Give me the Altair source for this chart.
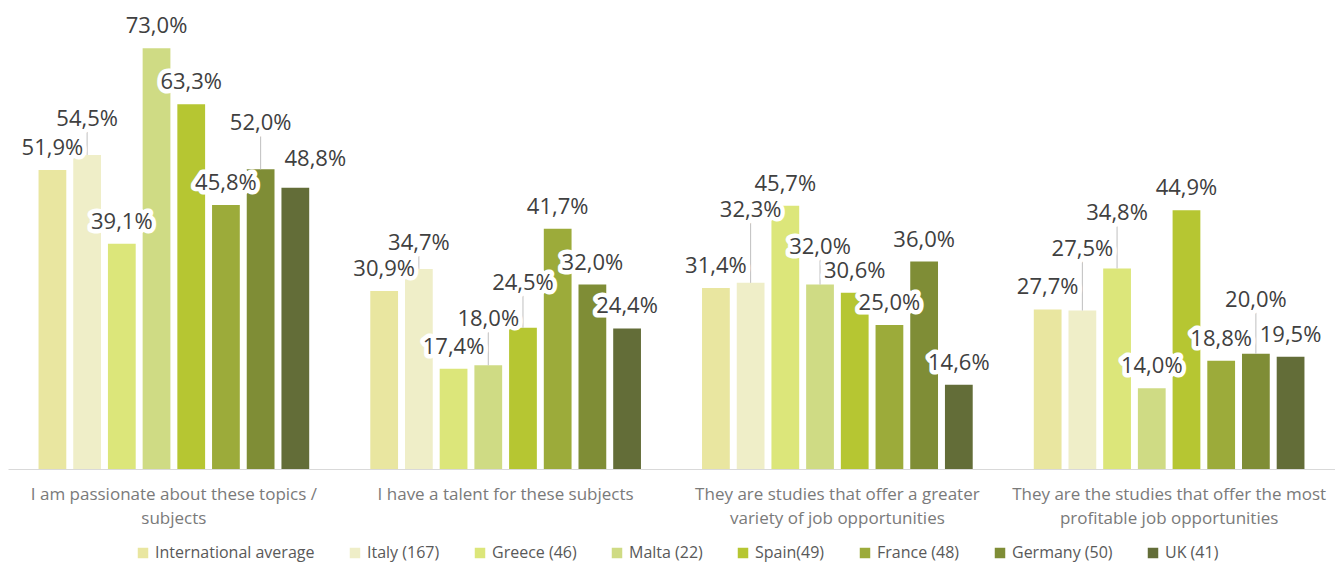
import altair as alt
import pandas as pd

# ---- data -------------------------------------------------------------
categories = [
    "I am passionate about these topics /|subjects",
    "I have a talent for these subjects",
    "They are studies that offer a greater|variety of job opportunities",
    "They are the studies that offer the most|profitable job opportunities",
]
series = [
    "International average", "Italy (167)", "Greece (46)", "Malta (22)",
    "Spain(49)", "France (48)", "Germany (50)", "UK (41)",
]
passionate = [51.9, 54.5, 39.1, 73.0, 63.3, 45.8, 52.0, 48.8]
talent = [30.9, 34.7, 17.4, 18.0, 24.5, 41.7, 32.0, 24.4]
variety = [31.4, 32.3, 45.7, 32.0, 30.6, 25.0, 36.0, 14.6]
profitable = [27.7, 27.5, 34.8, 14.0, 44.9, 18.8, 20.0, 19.5]

colors = ["#e9e6a0", "#efeec8", "#dce67a", "#cfdb84",
          "#b6c632", "#9cab3a", "#7f8d36", "#636d38"]

# label nudges (pixels) used by the original to avoid overlapping labels
raise_passionate = [0, 14, 0, 0, 0, 0, 24, 7]
raise_talent = [0, 4, 0, 24, 23, 0, 0, 0]
raise_variety = [0, 51, 0, 16, 0, 0, 0, 0]
raise_profitable = [0, 40, 33, 0, 0, 0, 32, 0]
shift_passionate = [0, 0, 0, 0, 0, 0, 0, 20]
shift_other = [0, 0, 0, 0, 0, 0, 0, 0]

values = [passionate, talent, variety, profitable]
raises = [raise_passionate, raise_talent, raise_variety, raise_profitable]
shifts = [shift_passionate, shift_other, shift_other, shift_other]

rows = []
for ci, cat in enumerate(categories):
    for si, s in enumerate(series):
        v = values[ci][si]
        rows.append({
            "category": cat,
            "series": s,
            "value": v,
            "label": f"{v:.1f}%".replace(".", ","),
            "lift": raises[ci][si],
            "label_dx": shifts[ci][si],
        })
df = pd.DataFrame(rows)

# ---- layout -----------------------------------------------------------
W = 1327
H = 461
YMAX = 80
PX = H / YMAX
GAP = 22
FONT = "Open Sans"

base = alt.Chart(df).transform_calculate(
    label_y=f"datum.value + ({GAP} + datum.lift) / {PX}",
    lead_top=f"datum.value + ({GAP} + datum.lift - 13) / {PX}",
)

x = alt.X(
    "category:N", sort=categories,
    scale=alt.Scale(paddingInner=0, paddingOuter=0),
    axis=alt.Axis(
        title=None, labelAngle=0, ticks=False,
        labelExpr="split(datum.label, '|')",
        domainColor="#d9d9d9", domainWidth=1,
        labelFont=FONT, labelFontSize=17, labelColor="#7a7a7a",
        labelLineHeight=24, labelPadding=17, labelLimit=400,
    ),
)
xo = alt.XOffset("series:N", sort=series,
                 scale=alt.Scale(paddingInner=0.2, paddingOuter=0.88))
yscale = alt.Scale(domain=[0, YMAX], nice=False)

bars = base.mark_bar().encode(
    x=x, xOffset=xo,
    y=alt.Y("value:Q", scale=yscale, axis=None),
    color=alt.Color(
        "series:N", sort=series,
        scale=alt.Scale(domain=series, range=colors),
        legend=alt.Legend(
            title=None, orient="none", direction="horizontal", columns=8,
            legendX=127, legendY=537,
            symbolType="square", symbolSize=110, symbolStrokeWidth=0,
            labelFont=FONT, labelFontSize=16, labelColor="#595959",
            labelOffset=4, columnPadding=32, labelLimit=300,
        ),
    ),
)

leaders = base.transform_filter(
    "datum.lift >= 4 && datum.label_dx == 0"
).mark_rule(color="#bfbfbf", strokeWidth=1).encode(
    x=x, xOffset=xo,
    y=alt.Y("value:Q", scale=yscale, axis=None),
    y2="lead_top:Q",
)

halo = base.mark_text(
    font=FONT, fontSize=22, baseline="middle", align="center",
    fill="white", stroke="white", strokeWidth=9, strokeJoin="round",
    dx=alt.ExprRef(expr="datum.label_dx"),
).encode(
    x=x, xOffset=xo,
    y=alt.Y("label_y:Q", scale=yscale, axis=None),
    text="label:N",
)

labels = base.mark_text(
    font=FONT, fontSize=22, baseline="middle", align="center",
    fill="#404040",
    dx=alt.ExprRef(expr="datum.label_dx"),
).encode(
    x=x, xOffset=xo,
    y=alt.Y("label_y:Q", scale=yscale, axis=None),
    text="label:N",
)

chart = alt.layer(bars, leaders, halo, labels).properties(
    width=W, height=H,
    padding={"left": 0, "top": 0, "right": 0, "bottom": 4},
).configure_view(stroke=None).configure_axis(grid=False)

chart.save("out.html", embed_options={"renderer": "svg", "actions": False})
